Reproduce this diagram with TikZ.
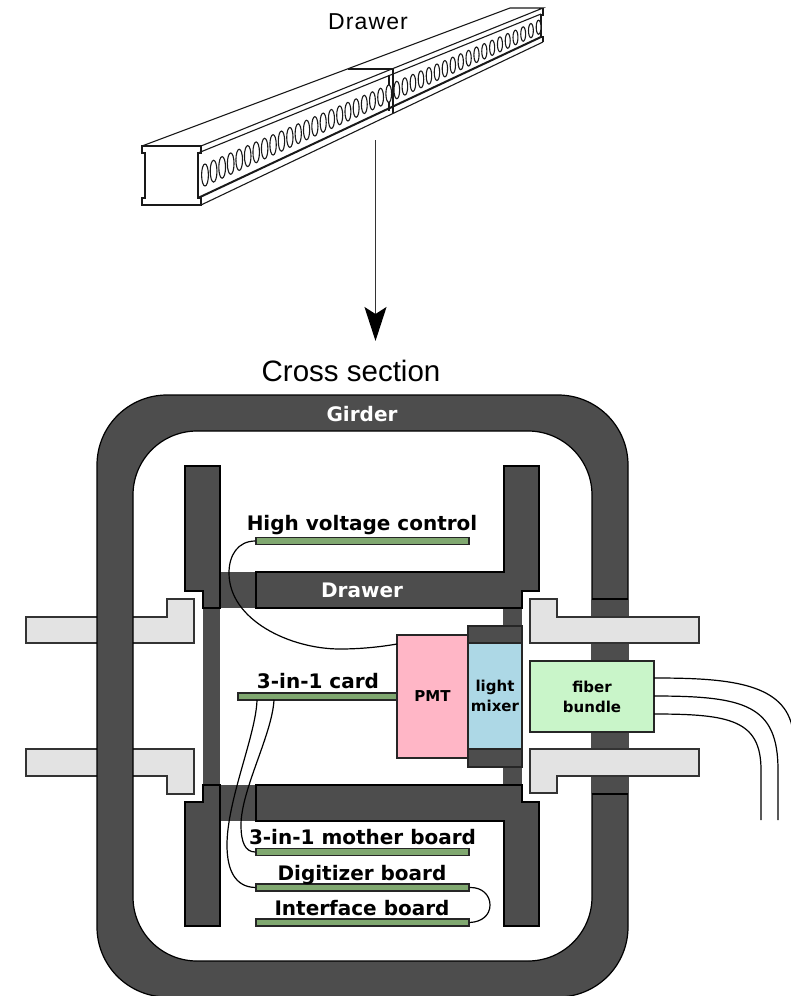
\documentclass[tikz,border=0pt]{standalone}
\usepackage{fontspec}
\setsansfont{DejaVu Sans}
\newfontfamily\headfont{Liberation Sans}
\newfontfamily\spacedfont[LetterSpace=5]{Liberation Sans}
\usetikzlibrary{arrows.meta}
\definecolor{darksteel}{HTML}{4D4D4D}
\definecolor{boardgreen}{HTML}{80A870}
\definecolor{pmtpink}{HTML}{FFB6C6}
\definecolor{mixerblue}{HTML}{ADD8E6}
\definecolor{fibergreen}{HTML}{C9F5C9}
\definecolor{flangegrey}{HTML}{E3E3E3}
\tikzset{
    wall/.style = {fill=darksteel, draw=black, line width=1.2pt},
    wallfill/.style = {fill=darksteel},
    flange/.style = {fill=flangegrey, draw=black!80, line width=1.2pt},
    board/.style = {shape=rectangle, draw=black!85, fill=boardgreen, line width=1.2pt, minimum height=7pt, inner sep=0pt},
    part/.style = {shape=rectangle, draw=black!85, line width=1.2pt, inner sep=0pt, align=center,
        font=\sffamily\bfseries\fontsize{15}{20}\selectfont},
    boardlabel/.style = {anchor=base, inner sep=0pt, font=\sffamily\bfseries\fontsize{20}{24}\selectfont},
    wire/.style = {draw=black, line width=1.2pt},
    beamline/.style = {draw=black!90, line width=1.1pt},
    hole/.style = {draw=black!90, fill=white, line width=1.1pt}
}
\begin{document}
\begin{tikzpicture}[x=1pt, y=-1pt]
    \useasboundingbox (0,0) rectangle (791,996);

    % drawer seen from outside
    \draw[beamline] (142,146) -- (142,153) -- (145,153) -- (145,198) -- (142,198) -- (142,205)
        -- (201,205) -- (201,198) -- (198,198) -- (198,153) -- (201,153) -- (201,146) -- cycle;
    \draw[beamline] (142,146) -- (510,8) -- (543,8) -- (201,146);
    \draw[beamline] (198,153) -- (541,14);
    \draw[beamline, line width=2pt] (198,198) -- (541,37);
    \draw[beamline] (201,205) -- (543,42);
    \draw[beamline] (543,8) -- (543,15) -- (541,15) -- (541,37) -- (543,37) -- (543,42);
    \draw[beamline] (348,69) -- (393,69) -- (393,113);
    \draw[beamline] (389,75) -- (389,111);
    \foreach \i in {0,...,41}
    {
        \pgfmathsetmacro{\holex}{205+8.6*\i-0.0113*\i*\i}
        \pgfmathsetmacro{\holey}{175-0.443*(\holex-205)}
        \pgfmathsetmacro{\holeh}{11-0.012*(\holex-205)}
        \pgfmathsetmacro{\holew}{3.4-0.003*(\holex-205)}
        \draw[hole] (\holex,\holey) ellipse ({\holew pt} and {\holeh pt});
    }

    \node[inner sep=0pt, anchor=base, font=\spacedfont\fontsize{23}{26}\selectfont] (drawertitle) at (368,29) {Drawer};
    \node[inner sep=0pt, anchor=base, font=\headfont\fontsize{29.5}{32}\selectfont] (crosstitle) at (351,381) {Cross section};

    \coordinate (arrowtop) at (375.5,140);
    \coordinate (arrowtip) at (375.5,341);
    \draw[draw=black!80, line width=1.5pt, -{Stealth[length=34pt, width=22pt, inset=7pt, black]}] (arrowtop) -- (arrowtip);

    % flanges behind the left of the girder
    \draw[flange] (26,617) -- (167,617) -- (167,599) -- (194,599) -- (194,643) -- (26,643) -- cycle;
    \draw[flange] (26,749) -- (194,749) -- (194,794) -- (167,794) -- (167,776) -- (26,776) -- cycle;

    % girder
    \draw[wall, even odd rule] (97,395) [rounded corners=70pt] rectangle (628,997)
        [rounded corners=64pt] (133,431) rectangle (592,961);
    \fill[darksteel] (591,599) rectangle (629,794);
    \draw[wall, fill=none] (592,599) -- (628,599);
    \draw[wall, fill=none] (592,794) -- (628,794);

    % drawer cross section
    \fill[wallfill] (203,608) rectangle (220,785);
    \fill[wallfill] (220,572) rectangle (256,608);
    \fill[wallfill] (220,785) rectangle (256,821);
    \fill[wallfill] (503,608) rectangle (522,626);
    \fill[wallfill] (503,767) rectangle (522,785);
    \draw[wall] (185,466) -- (220,466) -- (220,608) -- (203,608) -- (203,591) -- (185,591) -- cycle;
    \draw[wall] (185,926) -- (220,926) -- (220,785) -- (203,785) -- (203,802) -- (185,802) -- cycle;
    \draw[wall] (256,572) -- (504,572) -- (504,466) -- (539,466) -- (539,591) -- (522,591) -- (522,608) -- (256,608) -- cycle;
    \draw[wall] (256,785) -- (522,785) -- (522,802) -- (539,802) -- (539,926) -- (504,926) -- (504,821) -- (256,821) -- cycle;

    % flanges on the right
    \draw[flange] (699,617) -- (557,617) -- (557,599) -- (530,599) -- (530,643) -- (699,643) -- cycle;
    \draw[flange] (699,749) -- (530,749) -- (530,793) -- (557,793) -- (557,776) -- (699,776) -- cycle;

    \node[boardlabel, text=white] (girder) at (362,421) {Girder};
    \node[boardlabel, text=white] (drawer) at (362,597) {Drawer};

    \node[part, fill=darksteel, minimum width=54pt, minimum height=141pt] (housing) at (495,696.5) {};
    \node[part, fill=pmtpink, minimum width=71pt, minimum height=123pt] (pmt) at (432.5,696.5) {PMT};
    \node[part, fill=mixerblue, minimum width=54pt, minimum height=106pt] (mixer) at (495,696) {light\\mixer};
    \node[part, fill=fibergreen, minimum width=124pt, minimum height=71pt] (fiber) at (592,696.5) {fiber\\bundle};

    \node[board, minimum width=213pt] (hvboard) at (362.5,541) {};
    \node[board, minimum width=159pt] (cardboard) at (317.5,696.5) {};
    \node[board, minimum width=213pt] (motherboard) at (362.5,852) {};
    \node[board, minimum width=213pt] (digiboard) at (362.5,887.5) {};
    \node[board, minimum width=213pt] (ifboard) at (362.5,922.5) {};

    \node[boardlabel] (hvlabel) at (362,530) {High voltage control};
    \node[boardlabel] (cardlabel) at (318,688) {3-in-1 card};
    \node[boardlabel] (motherlabel) at (362.5,844) {3-in-1 mother board};
    \node[boardlabel] (digilabel) at (362,880) {Digitizer board};
    \node[boardlabel] (iflabel) at (362,915) {Interface board};

    \coordinate (pmtwire) at (397,644);
    \coordinate (cardwirea) at (257,700);
    \coordinate (cardwireb) at (274,700);
    \coordinate (fibera) at (654,678);
    \coordinate (fiberb) at (654,696);
    \coordinate (fiberc) at (654,714);
    \coordinate (fiberaend) at (792,726);
    \coordinate (fiberbend) at (778,820);
    \coordinate (fibercend) at (761,820);

    \draw[wire] (hvboard.west) .. controls (238,541) and (229,555) .. (229,573)
        .. controls (229,620) and (290,649) .. (340,649) .. controls (360,649) and (380,647) .. (pmtwire);
    \draw[wire] (cardwirea) .. controls (256,735) and (227,800) .. (227,845)
        .. controls (227,870) and (235,887) .. (digiboard.west);
    \draw[wire] (cardwireb) .. controls (272,735) and (241,790) .. (241,825)
        .. controls (241,842) and (245,852) .. (motherboard.west);
    \draw[wire] (digiboard.east) .. controls (482,887) and (490,895) .. (490,905)
        .. controls (490,915) and (482,922) .. (ifboard.east);
    \draw[wire] (fibera) .. controls (725,678) and (782,682) .. (fiberaend);
    \draw[wire] (fiberb) .. controls (745,696) and (778,705) .. (778,770) -- (fiberbend);
    \draw[wire] (fiberc) .. controls (730,714) and (761,720) .. (761,770) -- (fibercend);
\end{tikzpicture}
\end{document}
